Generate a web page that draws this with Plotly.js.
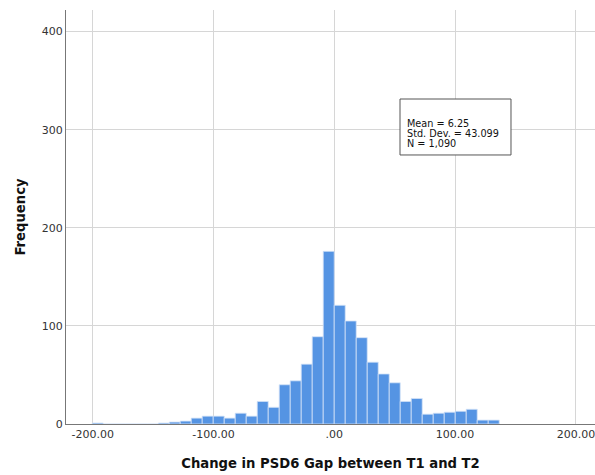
<!DOCTYPE html>
<html>
<head>
<meta charset="utf-8">
<script src="https://cdn.plot.ly/plotly-3.0.1.min.js"></script>
<style>html,body{margin:0;padding:0;background:#fff;}#chart{width:595px;height:475px;}</style>
</head>
<body>
<div id="chart"></div>
<script>
// Bin centers (bin width ~9.1)
const binCenters = [-195.85, -186.74, -177.63, -168.53, -159.42, -150.32, -141.21, -132.10, -123.00, -113.89,
  -104.79, -95.68, -86.57, -77.47, -68.36, -59.26, -50.15, -41.04, -31.94, -22.83,
  -13.73, -4.62, 4.49, 13.59, 22.70, 31.80, 40.91, 50.02, 59.12, 68.23,
  77.33, 86.44, 95.55, 104.65, 113.76, 122.86, 131.97];
const frequencies = [1, 0, 0, 0, 0, 0, 1, 2, 3, 6,
  8, 8, 6, 11, 8, 23, 17, 40, 44, 61,
  89, 176, 121, 105, 88, 63, 51, 42, 23, 26,
  10, 11, 12, 13, 15, 4, 4];
const binWidth = 9.106;
const xTickVals = [-200, -100, 0, 100, 200];
const xTickText = ["-200.00", "-100.00", ".00", "100.00", "200.00"];
const yTickVals = [0, 100, 200, 300, 400];
const statsLines = ["Mean = 6.25", "Std. Dev. = 43.099", "N = 1,090"];

const trace = {
  type: 'bar',
  x: binCenters,
  y: frequencies,
  width: binCenters.map(() => binWidth),
  marker: {color: '#5594e3', line: {color: '#d4e3f8', width: 0.8}},
  hoverinfo: 'x+y'
};

const font = {family: 'DejaVu Sans, sans-serif', size: 11, color: '#333'};
const statY = [0.7263, 0.7022, 0.678];
const annotations = statsLines.map((t, i) => ({
  xref: 'paper', yref: 'paper', x: 0.6405, y: statY[i], xanchor: 'left', yanchor: 'middle',
  text: t, showarrow: false, font: {family: 'DejaVu Sans, sans-serif', size: 9.7, color: '#111'}
}));

const layout = {
  width: 595, height: 475,
  margin: {l: 66, r: 0, t: 10, b: 51},
  paper_bgcolor: '#fff', plot_bgcolor: '#fff',
  font: font,
  showlegend: false,
  bargap: 0,
  xaxis: {
    range: [-222.1, 215.8], tickvals: xTickVals, ticktext: xTickText,
    showgrid: true, gridcolor: '#d6d6d6', gridwidth: 1, zeroline: false,
    showline: true, linecolor: '#777', linewidth: 1, ticks: '',
    ticklabeloverflow: 'allow',
    automargin: true,
    tickfont: {family: 'DejaVu Sans, sans-serif', size: 11, color: '#333'},
    title: {text: 'Change in PSD6 Gap between T1 and T2', font: {family: 'DejaVu Sans, sans-serif', size: 13.2, color: '#111', weight: 'bold'}, standoff: 18}
  },
  yaxis: {
    range: [0, 422], tickvals: yTickVals,
    showgrid: true, gridcolor: '#d6d6d6', gridwidth: 1, zeroline: false,
    showline: true, linecolor: '#777', linewidth: 1, ticks: '',
    automargin: true,
    tickfont: {family: 'DejaVu Sans, sans-serif', size: 11, color: '#333'},
    title: {text: 'Frequency', font: {family: 'DejaVu Sans, sans-serif', size: 13.2, color: '#111', weight: 'bold'}, standoff: 13}
  },
  shapes: [{
    type: 'rect', xref: 'paper', yref: 'paper',
    x0: 0.6314, x1: 0.8412, y0: 0.6498, y1: 0.785,
    line: {color: '#555', width: 1}, fillcolor: '#fff', layer: 'above'
  }],
  annotations: annotations
};

Plotly.newPlot('chart', [trace], layout, {displayModeBar: false, staticPlot: true});
</script>
</body>
</html>
